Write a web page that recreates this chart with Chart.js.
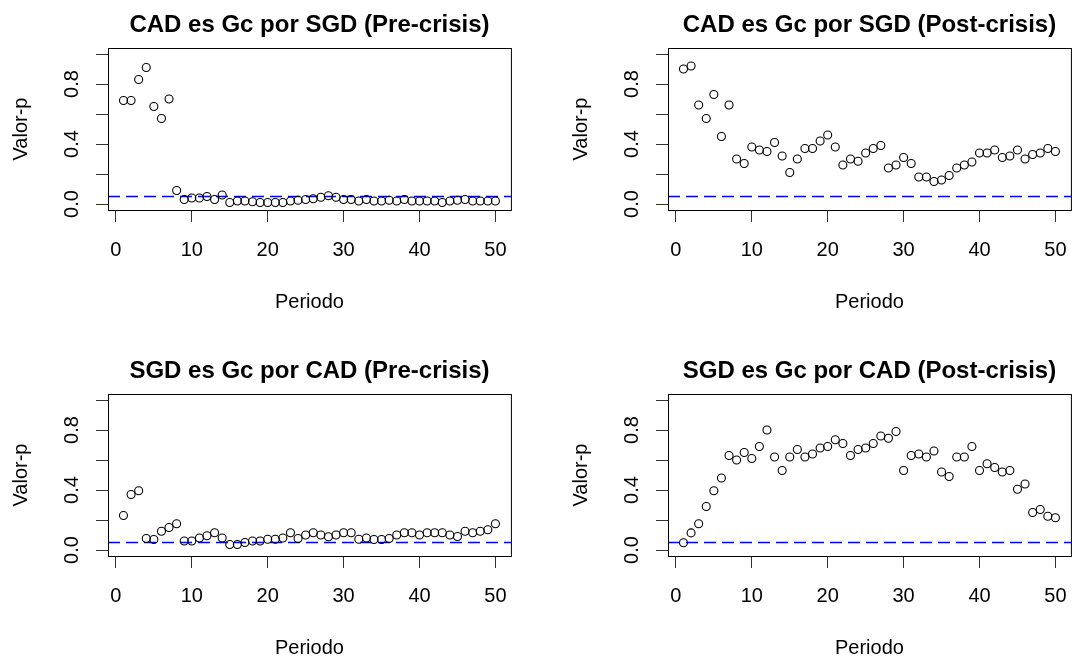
<!DOCTYPE html>
<html>
<head>
<meta charset="utf-8">
<title>Valor-p por periodo</title>
<script src="https://cdn.jsdelivr.net/npm/chart.js@4/dist/chart.umd.min.js"></script>
<style>
body{
    margin:0;
    background:#fff;
}
#wrap{
    position:relative;
    width:1072px;
    height:658px;
    overflow:hidden;
}
#wrap canvas{
    position:absolute;
}
</style>
</head>
<body>

<div id="wrap">
    <canvas id="c1" width="516" height="329" style="left:0;top:0"></canvas>
    <canvas id="c2" width="516" height="329" style="left:560px;top:0"></canvas>
    <canvas id="c3" width="516" height="312" style="left:0;top:346px"></canvas>
    <canvas id="c4" width="516" height="312" style="left:560px;top:346px"></canvas>
</div>

<script>

const periods = [
1,2,3,4,5,6,7,8,9,10,11,12,13,14,15,16,17,18,19,20,
21,22,23,24,25,26,27,28,29,30,31,32,33,34,35,36,37,38,39,40,
41,42,43,44,45,46,47,48,49,50
];

const cadSgdPre = [
0.69,0.69,0.83,0.91,0.65,0.57,0.70,0.09,0.03,0.04,
0.04,0.05,0.03,0.06,0.01,0.02,0.02,0.015,0.01,0.01,
0.01,0.01,0.02,0.025,0.03,0.035,0.045,0.055,0.045,0.03,
0.03,0.02,0.03,0.02,0.02,0.025,0.02,0.03,0.02,0.02,
0.02,0.02,0.01,0.02,0.025,0.03,0.02,0.02,0.02,0.02
];

const cadSgdPost = [
0.90,0.92,0.66,0.57,0.73,0.45,0.66,0.30,0.27,0.38,
0.36,0.35,0.41,0.32,0.21,0.30,0.37,0.37,0.42,0.46,
0.38,0.26,0.30,0.285,0.34,0.37,0.39,0.24,0.26,0.31,
0.27,0.18,0.18,0.15,0.16,0.19,0.24,0.26,0.28,0.34,
0.34,0.36,0.31,0.32,0.36,0.30,0.33,0.34,0.37,0.35
];

const sgdCadPre = [
0.23,0.37,0.395,0.077,0.07,0.125,0.15,0.175,0.06,0.06,
0.08,0.095,0.115,0.08,0.037,0.037,0.05,0.06,0.06,0.072,
0.072,0.08,0.115,0.077,0.10,0.115,0.10,0.088,0.10,0.115,
0.115,0.072,0.08,0.07,0.07,0.077,0.10,0.115,0.115,0.10,
0.115,0.115,0.115,0.10,0.09,0.125,0.115,0.125,0.135,0.175
];

const sgdCadPost = [
0.048,0.114,0.175,0.29,0.395,0.48,0.63,0.60,0.65,0.61,
0.69,0.80,0.62,0.53,0.62,0.67,0.62,0.64,0.68,0.69,
0.735,0.71,0.63,0.67,0.68,0.71,0.76,0.745,0.79,0.53,
0.63,0.64,0.62,0.66,0.52,0.49,0.62,0.62,0.69,0.53,
0.575,0.55,0.52,0.53,0.405,0.44,0.25,0.27,0.225,0.215
];

const titles = [
"CAD es Gc por SGD (Pre-crisis)",
"CAD es Gc por SGD (Post-crisis)",
"SGD es Gc por CAD (Pre-crisis)",
"SGD es Gc por CAD (Post-crisis)"
];

const xTicks = [0,10,20,30,40,50];
const yTicks = [0,0.2,0.4,0.6,0.8,1.0];
const yLabels = [0,0.4,0.8];

const alpha = 0.05;
const xLabel = "Periodo";
const yLabel = "Valor-p";

const FONT = "'Liberation Sans', Arial, sans-serif";

// R style pads the axes by 4% of the data range
const xMin = 1 - 0.04 * 51;
const xMax = 50 + 0.04 * 51;
const yMin = -0.04;
const yMax = 1.04;

const panelText = {

    id:"panelText",

    afterDraw(chart, args, opts){

        const ctx = chart.ctx;
        const area = chart.chartArea;
        const yScale = chart.scales.y;
        const midX = (area.left + area.right) / 2;
        const midY = (area.top + area.bottom) / 2;

        ctx.save();

        // box round the plot
        ctx.strokeStyle = "#000";
        ctx.lineWidth = 1;
        ctx.strokeRect(
            area.left + 0.5,
            area.top + 0.5,
            area.right - area.left,
            area.bottom - area.top
        );

        ctx.fillStyle = "#000";
        ctx.textAlign = "center";
        ctx.textBaseline = "middle";

        ctx.font = "bold 24px " + FONT;
        ctx.fillText(opts.title, midX, area.top - 23);

        ctx.font = "20px " + FONT;
        ctx.fillText(xLabel, midX, area.bottom + 92);

        ctx.save();
        ctx.translate(area.left - 87, midY);
        ctx.rotate(-Math.PI / 2);
        ctx.fillText(yLabel, 0, 0);
        ctx.restore();

        yLabels.forEach(v=>{

            ctx.save();
            ctx.translate(area.left - 36, yScale.getPixelForValue(v));
            ctx.rotate(-Math.PI / 2);
            ctx.fillText(v.toFixed(1), 0, 0);
            ctx.restore();
        });

        ctx.restore();
    }
};

function noPadding(s){

    s.paddingLeft = 0;
    s.paddingRight = 0;
    s.paddingTop = 0;
    s.paddingBottom = 0;
}

function makePanel(id, values, title, bottomPad){

    const points = periods.map((p,i)=>({x:p, y:values[i]}));

    return new Chart(

    document.getElementById(id),

    {
        type:"scatter",

        data:{
            datasets:[

            {
                data:points,
                pointStyle:"circle",
                pointRadius:4,
                pointBorderWidth:1.1,
                pointBorderColor:"#000",
                pointBackgroundColor:"rgba(0,0,0,0)"
            },

            {
                type:"line",
                data:[
                    {x:xMin, y:alpha},
                    {x:xMax, y:alpha}
                ],
                borderColor:"#0000ff",
                borderWidth:1.5,
                borderDash:[12,6],
                pointRadius:0
            }

            ]
        },

        options:{
            responsive:false,
            animation:false,
            events:[],

            layout:{
                padding:{left:68, right:2, top:48, bottom:bottomPad}
            },

            plugins:{
                legend:{display:false},
                tooltip:{enabled:false},
                panelText:{title}
            },

            scales:{
                x:{
                    type:"linear",
                    min:xMin,
                    max:xMax,
                    afterBuildTicks:s=>{
                        s.ticks = xTicks.map(v=>({value:v}));
                    },
                    afterFit:s=>{
                        s.height = 70;
                        noPadding(s);
                    },
                    ticks:{
                        color:"#000",
                        padding:16,
                        maxRotation:0,
                        autoSkip:false,
                        font:{family:FONT, size:20}
                    },
                    grid:{
                        drawOnChartArea:false,
                        tickLength:12,
                        color:"#333"
                    },
                    border:{display:false}
                },

                y:{
                    min:yMin,
                    max:yMax,
                    afterBuildTicks:s=>{
                        s.ticks = yTicks.map(v=>({value:v}));
                    },
                    afterFit:s=>{
                        s.width = 40;
                        noPadding(s);
                    },
                    ticks:{
                        autoSkip:false,
                        callback:()=>""
                    },
                    grid:{
                        drawOnChartArea:false,
                        tickLength:12,
                        color:"#333"
                    },
                    border:{display:false}
                }
            }
        },

        plugins:[panelText]
    });
}

makePanel("c1", cadSgdPre, titles[0], 49);
makePanel("c2", cadSgdPost, titles[1], 49);
makePanel("c3", sgdCadPre, titles[2], 32);
makePanel("c4", sgdCadPost, titles[3], 32);

</script>
</body>
</html>
